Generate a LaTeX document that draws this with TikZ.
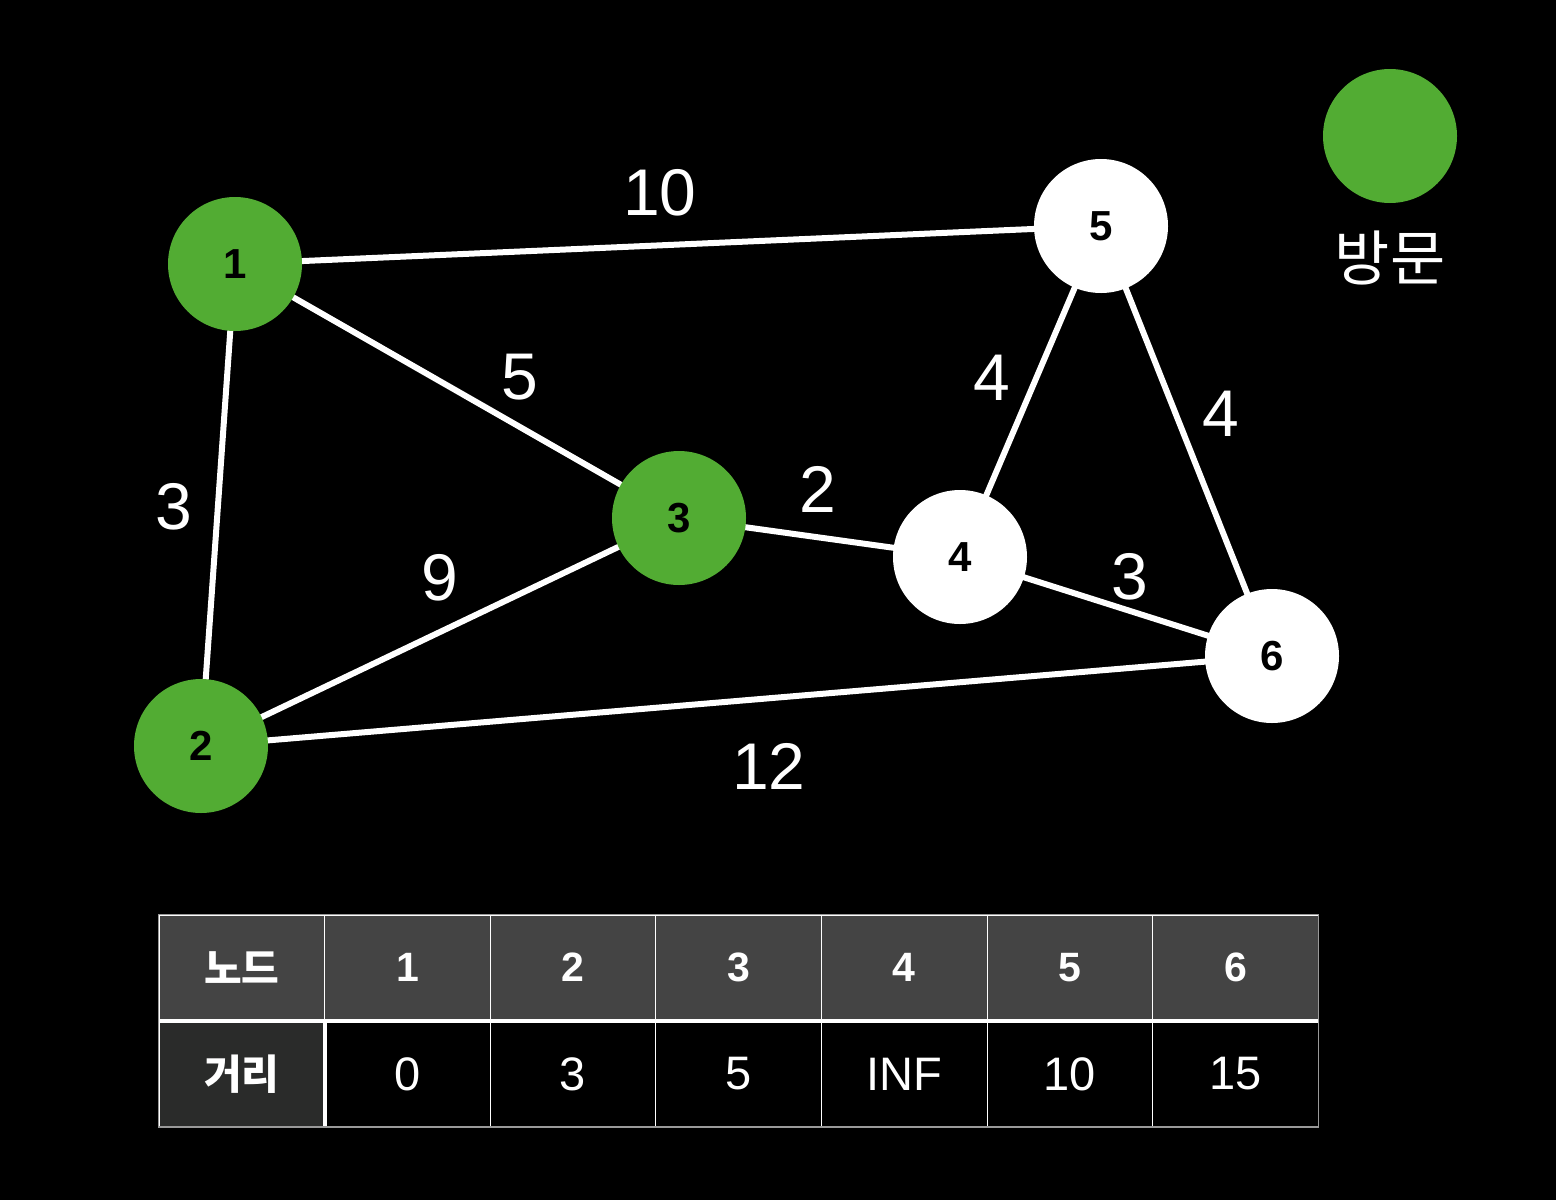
\documentclass[tikz,border=0pt]{standalone}
\usepackage{fontspec}
\setmainfont{Liberation Sans}
\newfontfamily\kr{Noto Sans CJK KR}
\definecolor{visit}{HTML}{52AC33}
\definecolor{headgray}{HTML}{444444}
\definecolor{rowgray}{HTML}{2A2B2A}
\definecolor{gridgray}{HTML}{999999}
\begin{document}
\begin{tikzpicture}[x=1pt,y=-1pt,
  vnode/.style={circle,minimum size=134pt,inner sep=0pt,fill=#1,text=black,font=\fontsize{42}{42}\selectfont\bfseries},
  edge/.style={draw=white,line width=6pt},
  wlabel/.style={text=white,font=\fontsize{66}{66}\selectfont},
  hcell/.style={rectangle,minimum width=165.6pt,minimum height=105pt,inner sep=0pt,fill=headgray,draw=white,line width=1pt,text=white,font=\fontsize{41}{41}\selectfont\bfseries},
  dcell/.style={rectangle,minimum width=165.6pt,minimum height=105pt,inner sep=0pt,fill=black,draw=white,line width=1pt,text=white,font=\fontsize{47}{47}\selectfont}
]
\fill[black] (0,0) rectangle (1556,1200);
\useasboundingbox (0,0) rectangle (1556,1200);

% edges first (under nodes)
\coordinate (c1) at (235,264);
\coordinate (c2) at (201,746);
\coordinate (c3) at (679,518);
\coordinate (c4) at (960,557);
\coordinate (c5) at (1101,226);
\coordinate (c6) at (1272,656);
\draw[edge] (c1) -- (c5);
\draw[edge] (c1) -- (c3);
\draw[edge] (c1) -- (c2);
\draw[edge] (c2) -- (c3);
\draw[edge] (c2) -- (c6);
\draw[edge] (c3) -- (c4);
\draw[edge] (c4) -- (c5);
\draw[edge] (c4) -- (c6);
\draw[edge] (c5) -- (c6);

\node[vnode=visit] (n1) at (c1) {1};
\node[vnode=visit] (n2) at (c2) {2};
\node[vnode=visit] (n3) at (c3) {3};
\node[vnode=white] (n4) at (c4) {4};
\node[vnode=white] (n5) at (c5) {5};
\node[vnode=white] (n6) at (c6) {6};

% edge weights
\node[wlabel] (w15) at (660,193) {10};
\node[wlabel] (w13) at (520,377) {5};
\node[wlabel] (w12) at (174,507) {3};
\node[wlabel] (w23) at (440,578) {9};
\node[wlabel] (w34) at (818,489) {2};
\node[wlabel] (w45) at (992,378) {4};
\node[wlabel] (w56) at (1221,414) {4};
\node[wlabel] (w46) at (1130,577) {3};
\node[wlabel] (w26) at (769,766) {12};

% legend
\node[circle,minimum size=134pt,inner sep=0pt,fill=visit] (leg) at (1390,136) {};
\node[text=white,font=\kr\fontsize{60}{60}\selectfont] (legt) at (1390,258) {방문};

% table
\node[hcell] (h0) at (241.8,967.5) {\kr 노드};
\node[hcell] (h1) at (407.4,967.5) {1};
\node[hcell] (h2) at (573.0,967.5) {2};
\node[hcell] (h3) at (738.6,967.5) {3};
\node[hcell] (h4) at (904.2,967.5) {4};
\node[hcell] (h5) at (1069.8,967.5) {5};
\node[hcell] (h6) at (1235.4,967.5) {6};
\node[dcell,fill=rowgray,font=\kr\fontsize{41}{41}\selectfont\bfseries] (d0) at (241.8,1074) {거리};
\node[dcell] (d1) at (407.4,1074) {0};
\node[dcell] (d2) at (573.0,1074) {3};
\node[dcell] (d3) at (738.6,1074) {5};
\node[dcell] (d4) at (904.2,1074) {INF};
\node[dcell] (d5) at (1069.8,1074) {10};
\node[dcell] (d6) at (1235.4,1074) {15};
\draw[white,line width=4pt] (h0.south west) -- (h6.south east);
\draw[white,line width=4pt] (d0.north east) -- (d0.south east);
\draw[gridgray,line width=1.2pt] (h0.north west) rectangle (d6.south east);
\end{tikzpicture}
\end{document}
